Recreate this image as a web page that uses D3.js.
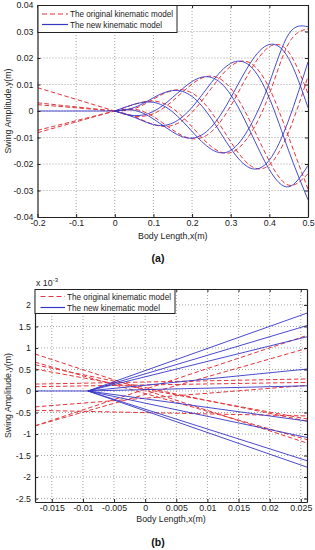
<!DOCTYPE html>
<html><head><meta charset="utf-8">
<script src="https://cdn.jsdelivr.net/npm/d3@7"></script>
<style>
body{margin:0;background:#fff}
text{font-family:"Liberation Sans",Arial,Helvetica,sans-serif}
</style>
</head><body>
<svg id="c" width="315" height="550"></svg>
<script>
// ---------- DATA ----------
// Panel (a)
const xBodyA = [0,0.05,0.1,0.15,0.2,0.25,0.3,0.35,0.4,0.45,0.5];
const newModelA = [
 [0,-0.00235,-0.00512,-0.00454,0.00139,0.01073,0.01796,0.01702,0.00488,-0.01500,-0.03350],
 [0,0.00028,-0.00300,-0.00794,-0.01026,-0.00601,0.00496,0.01794,0.02510,0.01981,0.00126],
 [0,0.00253,0.00327,-0.00038,-0.00773,-0.01447,-0.01490,-0.00577,0.01062,0.02900,0.03180],
 [0,0.00129,0.00501,0.00772,0.00548,-0.00290,-0.01414,-0.02152,-0.01853,-0.00341,0.01849],
 [0,-0.00173,-0.00017,0.00515,0.01112,0.01267,0.00615,-0.00754,-0.02210,-0.02860,-0.02055]
];
const originalModelA = [
 [0,-0.00206,-0.00509,-0.00540,-0.00050,0.00857,0.01689,0.01816,0.00859,-0.00980,-0.02950],
 [0,0.00068,-0.00212,-0.00717,-0.01048,-0.00784,0.00190,0.01506,0.02424,0.02221,0.00658],
 [0,0.00248,0.00377,0.00097,-0.00599,-0.01342,-0.01571,-0.00883,0.00636,0.02550,0.03100],
 [0,0.00085,0.00446,0.00777,0.00679,-0.00045,-0.01161,-0.02051,-0.02031,-0.00787,0.01302],
 [0,-0.00195,-0.00102,0.00384,0.01017,0.01316,0.00854,-0.00387,-0.01891,-0.02800,-0.02368]
];
const headXA = [-0.2, 0];
const originalHeadA = [0.0088, 0.0031, 0.0024, -0.0073, -0.0082];
const newHeadA = [0];
const xTicksA = [-0.2,-0.1,0,0.1,0.2,0.3,0.4,0.5];
const xTickLabelsA = ["-0.2","-0.1","0","0.1","0.2","0.3","0.4","0.5"];
const yTicksA = [-0.04,-0.03,-0.02,-0.01,0,0.01,0.02,0.03,0.04];
const yTickLabelsA = ["-0.04","-0.03","-0.02","-0.01","0","0.01","0.02","0.03","0.04"];

// Panel (b)  (y in units of 1e-3)
const xRangeB = [-0.0177, 0.026];
const newPivotB = -0.0092;
const newRightB = [1.81, 1.52, 1.26, 0.51, 0.12, -0.70, -1.08, -1.62, -1.77];
const originalLeftB  = [0.86, 0.67, 0.61, 0.51, 0.16, 0.10, -0.37, -0.45, -0.81, -0.81];
const originalRightB = [-1.21, -1.13, -0.70, -0.65, 0.28, 0.20, 0.13, -0.58, 0.99, 1.29];
const xTicksB = [-0.015,-0.01,-0.005,0,0.005,0.01,0.015,0.02,0.025];
const xTickLabelsB = ["-0.015","-0.01","-0.005","0","0.005","0.01","0.015","0.02","0.025"];
const yTicksB = [-2.5,-2,-1.5,-1,-0.5,0,0.5,1,1.5,2];
const yTickLabelsB = ["-2.5","-2","-1.5","-1","-0.5","0","0.5","1","1.5","2"];

const legendLabels = ["The original kinematic model", "The new kinematic model"];

// ---------- STYLE ----------
const RED = "#e3363c", BLUE = "#3535c8";
const svg = d3.select("#c");

function panel(o) {
  const x = d3.scaleLinear(o.xDomain, [o.left, o.right]);
  const y = d3.scaleLinear(o.yDomain, [o.bottom, o.top]);
  const g = svg.append("g");
  const W = o.right - o.left, H = o.bottom - o.top;

  const grid = g.append("g").attr("stroke", "#8a8a8a").attr("stroke-dasharray", "1,2").attr("stroke-width", 0.8);
  grid.selectAll("line.v").data(o.xTicks.filter(v => Math.abs(x(v) - o.left) > 1 && Math.abs(x(v) - o.right) > 1))
    .join("line").attr("x1", d => x(d)).attr("x2", d => x(d)).attr("y1", o.top).attr("y2", o.bottom);
  grid.selectAll("line.h").data(o.yTicks.filter(v => Math.abs(y(v) - o.top) > 1 && Math.abs(y(v) - o.bottom) > 1))
    .join("line").attr("y1", d => y(d)).attr("y2", d => y(d)).attr("x1", o.left).attr("x2", o.right);

  const cid = "clip" + o.id;
  svg.append("clipPath").attr("id", cid).append("rect")
    .attr("x", o.left).attr("y", o.top).attr("width", W).attr("height", H);
  const plot = g.append("g").attr("clip-path", `url(#${cid})`);

  o.draw(plot, x, y);

  const fmt = (labels, ticks) => (d) => labels[ticks.indexOf(d)];
  const ax = g.append("g").attr("transform", `translate(0,${o.bottom})`)
    .call(d3.axisBottom(x).tickValues(o.xTicks).tickFormat(fmt(o.xLabels, o.xTicks)).tickSize(-3).tickSizeOuter(0).tickPadding(3));
  const ay = g.append("g").attr("transform", `translate(${o.left},0)`)
    .call(d3.axisLeft(y).tickValues(o.yTicks).tickFormat(fmt(o.yLabels, o.yTicks)).tickSize(-3).tickSizeOuter(0).tickPadding(4));
  const at = g.append("g").attr("transform", `translate(0,${o.top})`)
    .call(d3.axisTop(x).tickValues(o.xTicks).tickFormat("").tickSize(-3).tickSizeOuter(0));
  const ar = g.append("g").attr("transform", `translate(${o.right},0)`)
    .call(d3.axisRight(y).tickValues(o.yTicks).tickFormat("").tickSize(-3).tickSizeOuter(0));
  [ax, ay, at, ar].forEach(a => {
    a.selectAll("text").attr("font-size", 8.8).attr("fill", "#222").attr("font-family", '"Liberation Sans",Arial,sans-serif');
    a.selectAll("line").attr("stroke", "#222");
    a.select(".domain").attr("stroke", "#222").attr("stroke-width", 1.2);
  });

  g.append("text").attr("x", (o.left + o.right) / 2).attr("y", o.xTitleY).attr("text-anchor", "middle")
    .attr("font-size", 8.8).attr("fill", "#222").text("Body Length,x(m)");
  g.append("text").attr("transform", `translate(${o.yTitleX},${(o.top + o.bottom) / 2}) rotate(-90)`)
    .attr("text-anchor", "middle").attr("font-size", 8.8).attr("fill", "#222").text("Swing Amplitude,y(m)");

  const L = o.legend;
  const lg = g.append("g");
  lg.append("rect").attr("x", L.x).attr("y", L.y).attr("width", L.w).attr("height", L.h)
    .attr("fill", "#fff").attr("stroke", "#222").attr("stroke-width", 1);
  legendLabels.forEach((t, i) => {
    const yy = L.rows[i];
    lg.append("line").attr("x1", L.s0).attr("x2", L.s1).attr("y1", yy).attr("y2", yy)
      .attr("stroke", i === 0 ? RED : BLUE).attr("stroke-width", i === 0 ? 1.1 : 1.2)
      .attr("stroke-dasharray", i === 0 ? "5,3" : null);
    lg.append("text").attr("x", L.s1 + 2).attr("y", yy + 3).attr("font-size", 8.2).attr("fill", "#222")
      .attr("textLength", L.tl[i]).attr("lengthAdjust", "spacingAndGlyphs").text(t);
  });
  return g;
}

const redStyle = s => s.attr("fill", "none").attr("stroke", RED).attr("stroke-width", 1).attr("stroke-dasharray", "4.5,2.5");
const blueStyle = s => s.attr("fill", "none").attr("stroke", BLUE).attr("stroke-width", 0.9);

// ---------- PANEL (a) ----------
panel({
  id: "a", left: 37.5, right: 308, top: 5, bottom: 217,
  xDomain: [-0.2, 0.5], yDomain: [-0.04, 0.04],
  xTicks: xTicksA, xLabels: xTickLabelsA, yTicks: yTicksA, yLabels: yTickLabelsA,
  xTitleY: 239, yTitleX: 11,
  legend: { x: 38, y: 5.5, w: 139, h: 27, rows: [14, 24.5], s0: 42, s1: 68, tl: [103, 92] },
  draw: (p, x, y) => {
    const curve = d3.line().x(d => x(d[0])).y(d => y(d[1])).curve(d3.curveNatural);
    const straight = d3.line().x(d => x(d[0])).y(d => y(d[1]));
    originalHeadA.forEach(v => p.append("path").attr("d", straight([[headXA[0], v], [headXA[1], 0]])).call(redStyle));
    originalModelA.forEach(arr => p.append("path").attr("d", curve(arr.map((v, i) => [xBodyA[i], v]))).call(redStyle));
    newHeadA.forEach(v => p.append("path").attr("d", straight([[headXA[0], v], [headXA[1], v]])).call(blueStyle));
    newModelA.forEach(arr => p.append("path").attr("d", curve(arr.map((v, i) => [xBodyA[i], v]))).call(blueStyle));
  }
});

// ---------- PANEL (b) ----------
panel({
  id: "b", left: 35, right: 307, top: 289, bottom: 502,
  xDomain: xRangeB, yDomain: [-2.58, 2.37],
  xTicks: xTicksB, xLabels: xTickLabelsB, yTicks: yTicksB, yLabels: yTickLabelsB,
  xTitleY: 522, yTitleX: 11,
  legend: { x: 35, y: 289.5, w: 140, h: 24, rows: [296.5, 307.5], s0: 40.5, s1: 65, tl: [104, 93] },
  draw: (p, x, y) => {
    const straight = d3.line().x(d => x(d[0])).y(d => y(d[1]));
    originalLeftB.forEach((v, i) => p.append("path")
      .attr("d", straight([[xRangeB[0], v], [xRangeB[1], originalRightB[i]]])).call(redStyle));
    p.append("path").attr("d", straight([[xRangeB[0], 0], [newPivotB, 0]])).call(blueStyle);
    newRightB.forEach(v => p.append("path")
      .attr("d", straight([[newPivotB, 0], [xRangeB[1], v]])).call(blueStyle));
  }
});

const ex = svg.append("text").attr("x", 36).attr("y", 286).attr("font-size", 8.8).attr("fill", "#222");
ex.append("tspan").text("x 10");
ex.append("tspan").attr("dy", -4).attr("font-size", 6).text("-3");

svg.append("text").attr("x", 158).attr("y", 262).attr("text-anchor", "middle")
  .attr("font-family", '"Liberation Serif","Times New Roman",serif').attr("font-weight", "bold")
  .attr("font-size", 10.5).attr("fill", "#111").text("(a)");
svg.append("text").attr("x", 158).attr("y", 546).attr("text-anchor", "middle")
  .attr("font-family", '"Liberation Serif","Times New Roman",serif').attr("font-weight", "bold")
  .attr("font-size", 10.5).attr("fill", "#111").text("(b)");
</script>
</body></html>
